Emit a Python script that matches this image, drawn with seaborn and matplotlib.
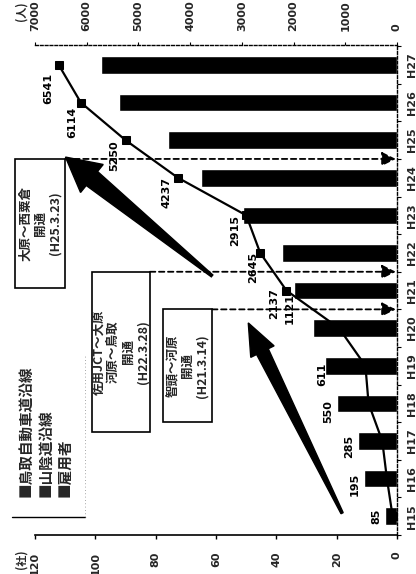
import numpy as np
import pandas as pd
import matplotlib
matplotlib.use("Agg")
import matplotlib.pyplot as plt
import seaborn as sns
from matplotlib.patches import Polygon, Rectangle
from matplotlib.lines import Line2D

# ---------------- data ----------------
years = ["H15", "H16", "H17", "H18", "H19", "H20", "H21",
         "H22", "H23", "H24", "H25", "H26", "H27"]
companies = [4, 11, 13, 20, 24, 28, 34, 38, 51, 65, 76, 92, 98]          # (社)
employees = [85, 195, 285, 550, 611, 1121, 2137, 2645, 2915,
             4237, 5250, 6114, 6541]                                      # (人)
company_ticks = [0, 20, 40, 60, 80, 100, 120]
employee_ticks = [0, 1000, 2000, 3000, 4000, 5000, 6000, 7000]
legend_labels = ["鳥取自動車道沿線", "山陰道沿線", "雇用者"]
event_texts = ["大原～西粟倉\n開通\n(H25.3.23)",
               "佐用JCT～大原\n河原～鳥取\n開通\n(H22.3.28)",
               "智頭～河原\n開通\n(H21.3.14)"]
event_fiscal_years = ["H24", "H21", "H20"]

# ---------------- style ----------------
sns.set_theme(style="white")
plt.rcParams["font.family"] = ["DejaVu Sans", "Noto Sans CJK JP"]
CJK = ["Noto Sans CJK JP", "DejaVu Sans"]

W, H = 416, 574
fig = plt.figure(figsize=(W / 100, H / 100), dpi=100)
fig.patch.set_facecolor("white")
ax = fig.add_axes([35 / W, 39 / H, 362 / W, 490 / H])

df = pd.DataFrame({"年度": years, "社": companies, "人": employees})
sns.barplot(data=df, x="社", y="年度", orient="h", color="black",
            saturation=1, width=0.47, ax=ax)

ax2 = ax.twiny()
pos = np.arange(len(years))
sns.lineplot(x=df["人"].to_numpy(), y=pos, orient="y", sort=False,
             estimator=None, color="black", marker="s", markersize=6,
             markeredgecolor="black", linewidth=1.6, ax=ax2)

ax.set_xlim(120, 0)
ax2.set_xlim(7000, 0)
ax.set_ylim(-0.4, 12.53)

# category axis on the right
ax.yaxis.tick_right()
ax.set_yticks(pos)
ax.set_yticklabels(years, rotation=90, va="center", fontsize=8, fontweight="bold")
ax.set_yticks(np.arange(-0.5, len(years), 1), minor=True)
ax.tick_params(axis="y", which="major", length=0, pad=7.5, right=True, left=False)
ax.tick_params(axis="y", which="minor", length=3, width=0.8, direction="out",
               right=True, left=False, color="black")
ax.set_ylabel("")
ax.set_xlabel("")

ax.set_xticks(company_ticks)
ax.set_xticklabels([str(t) for t in company_ticks], rotation=90, fontsize=8,
                   fontweight="bold")
ax.tick_params(axis="x", which="major", length=3, width=1, direction="out",
               pad=9, bottom=True, color="black")

ax2.set_xticks(employee_ticks)
ax2.set_xticklabels([str(t) for t in employee_ticks], rotation=90, fontsize=8,
                    fontweight="bold")
ax2.tick_params(axis="x", which="major", length=2, width=0.8, direction="out",
                pad=8, top=True, color="black")
ax2.set_xlabel("")
ax2.set_ylabel("")

for s in ["left", "top"]:
    ax.spines[s].set_visible(False)
ax.spines["bottom"].set_color("black")
ax.spines["bottom"].set_linewidth(1.2)
ax.spines["right"].set_color("black")
ax.spines["right"].set_linewidth(1.0)
ax.spines["right"].set_linestyle((0, (2, 1.5)))
for s in ["left", "right", "bottom"]:
    ax2.spines[s].set_visible(False)
ax2.spines["top"].set_color("black")
ax2.spines["top"].set_linewidth(1.0)
ax2.spines["top"].set_linestyle((0, (2, 1.5)))

# value labels
label_offsets = [(-11, 0), (-27, -6), (-28, -5), (-35, -8), (-38, -9),
                 (-44, 20), (-7, -13), (-2, -14), (-6, -15), (-6, -15),
                 (-6, -16), (-4, -20), (-5, -24)]
for i, v in enumerate(employees):
    dx, dy = label_offsets[i]
    ax2.annotate(str(v), xy=(v, pos[i]), xytext=(dx, dy),
                 textcoords="offset pixels", rotation=90, ha="right",
                 va="center", fontsize=8, fontweight="bold", color="black")

# event boxes + dashed arrows
box_geom = [  # (right edge 社, left edge 社, height in categories)
    (110.0, 126.6, 3.43),
    (81.9, 101.1, 4.26),
    (61.3, 77.6, 3.0),
]
for txt, fy, (xr, xl, h) in zip(event_texts, event_fiscal_years, box_geom):
    b = years.index(fy) + 0.5
    rect = Rectangle((xr, b - h), xl - xr, h, facecolor="white",
                     edgecolor="black", linewidth=1.2, clip_on=False, zorder=5)
    ax.add_patch(rect)
    ax.text((xr + xl) / 2, b - h / 2, txt, rotation=90, ha="center",
            va="center", multialignment="center", fontsize=9,
            family=CJK, fontweight="bold", linespacing=1.15, zorder=6,
            clip_on=False)
    ax.annotate("", xy=(0.4, b), xytext=(xr, b),
                arrowprops=dict(arrowstyle="-|>,head_length=0.7,head_width=0.35",
                                linestyle=(0, (3, 2)), lw=1.3, color="black",
                                shrinkA=0, shrinkB=0, mutation_scale=12),
                zorder=4)

# big wedge arrows (display coordinates)
def wedge(tail, tip, hl, hw, bw):
    T = ax.transData.transform(tail)
    P = ax.transData.transform(tip)
    d = (P - T) / np.hypot(*(P - T))
    n = np.array([-d[1], d[0]])
    B = P - d * hl
    pts = [T + n * 1.2, B + n * bw, B + n * hw, P, B - n * hw, B - n * bw, T - n * 1.2]
    fig.patches.append(Polygon(pts, closed=True, facecolor="black",
                               edgecolor="black", transform=None, zorder=7))

wedge((61.3, 6.39), (109.9, 9.55), hl=34, hw=18, bw=9)
wedge((18.2, 0.08), (49.3, 5.14), hl=32, hw=13, bw=6.5)

# legend (rotated, manual)
for xp, lab in zip([25, 45, 64], legend_labels):
    fig.text(xp / W, (H - 497) / H, "■" + lab, rotation=90, ha="center",
             va="bottom", fontsize=10.5, family=CJK, fontweight="bold")
fig.lines.append(Line2D([12 / W, 85 / W], [(H - 517) / H, (H - 517) / H],
                        transform=fig.transFigure, color="black", lw=1.0))
fig.lines.append(Line2D([85 / W, 85 / W], [(H - 517) / H, (H - 355) / H],
                        transform=fig.transFigure, color="#888888", lw=0.6,
                        linestyle=(0, (1, 3))))

# axis unit labels
fig.text(21 / W, (H - 559) / H, "(社)", rotation=90, ha="center", va="center",
         fontsize=8, family=CJK, fontweight="bold")
fig.text(21 / W, (H - 11) / H, "(人)", rotation=90, ha="center", va="center",
         fontsize=8, family=CJK, fontweight="bold")

fig.savefig("out.png", dpi=100)
